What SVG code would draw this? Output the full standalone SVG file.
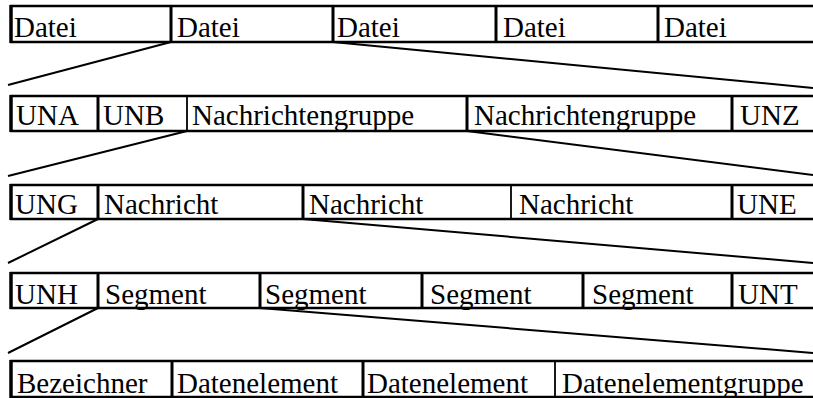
<svg xmlns="http://www.w3.org/2000/svg" width="813" height="398" viewBox="0 0 813 398">
<style>
.h{stroke:#000;stroke-width:2.5;fill:none}
.v{stroke:#000;stroke-width:3;fill:none}
.vl{stroke:#000;stroke-width:3.5;fill:none}
.vt{stroke:#000;stroke-width:1.8;fill:none}
.c{stroke:#000;stroke-width:2;fill:none}
.t{font-family:'Liberation Serif','Times New Roman',Tinos,'DejaVu Serif',serif;font-size:29px;fill:#000}
</style>
<rect width="813" height="398" fill="#fff"/>
<g id="connectors">
<line class="c" x1="171" y1="42" x2="8" y2="85"/>
<line class="c" x1="333" y1="42" x2="813" y2="88"/>
<line class="c" x1="187" y1="131" x2="8" y2="176"/>
<line class="c" x1="467" y1="131" x2="813" y2="175"/>
<line class="c" x1="98" y1="219" x2="8" y2="263"/>
<line class="c" x1="303" y1="219" x2="813" y2="263"/>
<line class="c" x1="98" y1="308" x2="8" y2="353"/>
<line class="c" x1="260" y1="308" x2="813" y2="353"/>
</g>
<g class="t" font-family="Liberation Serif, Times New Roman, serif">
<g id="row1">
<line class="h" x1="10" y1="6" x2="813" y2="6"/>
<line class="h" x1="10" y1="42" x2="813" y2="42"/>
<g id="datei1"><line class="vl" x1="11" y1="5" x2="11" y2="43"/><text x="14" y="37">Datei</text></g>
<g id="datei2"><line class="v" x1="171" y1="5" x2="171" y2="43"/><text x="177" y="37">Datei</text></g>
<g id="datei3"><line class="v" x1="333" y1="5" x2="333" y2="43"/><text x="337" y="37">Datei</text></g>
<g id="datei4"><line class="v" x1="496" y1="5" x2="496" y2="43"/><text x="503" y="37">Datei</text></g>
<g id="datei5"><line class="v" x1="658" y1="5" x2="658" y2="43"/><text x="664" y="37">Datei</text></g>
</g>
<g id="row2">
<line class="h" x1="10" y1="96" x2="813" y2="96"/>
<line class="h" x1="10" y1="131" x2="813" y2="131"/>
<g id="una"><line class="vl" x1="11" y1="95" x2="11" y2="132"/><text x="16" y="125">UNA</text></g>
<g id="unb"><line class="v" x1="98" y1="95" x2="98" y2="132"/><text x="103" y="125">UNB</text></g>
<g id="ngruppe1"><line class="vt" x1="187" y1="95" x2="187" y2="132"/><text x="192" y="125">Nachrichtengruppe</text></g>
<g id="ngruppe2"><line class="v" x1="467" y1="95" x2="467" y2="132"/><text x="474" y="125">Nachrichtengruppe</text></g>
<g id="unz"><line class="v" x1="732" y1="95" x2="732" y2="132"/><text x="740" y="125">UNZ</text></g>
</g>
<g id="row3">
<line class="h" x1="10" y1="185" x2="813" y2="185"/>
<line class="h" x1="10" y1="219" x2="813" y2="219"/>
<g id="ung"><line class="vl" x1="11" y1="184" x2="11" y2="220"/><text x="15" y="214">UNG</text></g>
<g id="nachricht1"><line class="v" x1="98" y1="184" x2="98" y2="220"/><text x="104" y="214">Nachricht</text></g>
<g id="nachricht2"><line class="v" x1="303" y1="184" x2="303" y2="220"/><text x="309" y="214">Nachricht</text></g>
<g id="nachricht3"><line class="vt" x1="511" y1="184" x2="511" y2="220"/><text x="519" y="214">Nachricht</text></g>
<g id="une"><line class="v" x1="732" y1="184" x2="732" y2="220"/><text x="737" y="214">UNE</text></g>
</g>
<g id="row4">
<line class="h" x1="10" y1="273" x2="813" y2="273"/>
<line class="h" x1="10" y1="308" x2="813" y2="308"/>
<g id="unh"><line class="vl" x1="11" y1="272" x2="11" y2="309"/><text x="15" y="304">UNH</text></g>
<g id="segment1"><line class="v" x1="98" y1="272" x2="98" y2="309"/><text x="105" y="304">Segment</text></g>
<g id="segment2"><line class="v" x1="260" y1="272" x2="260" y2="309"/><text x="265" y="304">Segment</text></g>
<g id="segment3"><line class="v" x1="422" y1="272" x2="422" y2="309"/><text x="430" y="304">Segment</text></g>
<g id="segment4"><line class="v" x1="583" y1="272" x2="583" y2="309"/><text x="592" y="304">Segment</text></g>
<g id="unt"><line class="v" x1="732" y1="272" x2="732" y2="309"/><text x="738" y="304">UNT</text></g>
</g>
<g id="row5">
<line class="h" x1="10" y1="361" x2="813" y2="361"/>
<line class="h" x1="10" y1="397" x2="813" y2="397"/>
<g id="bezeichner"><line class="vl" x1="11" y1="360" x2="11" y2="398"/><text x="17" y="393">Bezeichner</text></g>
<g id="datenelement1"><line class="v" x1="172" y1="360" x2="172" y2="398"/><text x="177" y="393">Datenelement</text></g>
<g id="datenelement2"><line class="v" x1="363" y1="360" x2="363" y2="398"/><text x="367" y="393">Datenelement</text></g>
<g id="datenelementgruppe"><line class="vt" x1="555" y1="360" x2="555" y2="398"/><text x="562" y="393">Datenelementgruppe</text></g>
</g>
</g>
</svg>
